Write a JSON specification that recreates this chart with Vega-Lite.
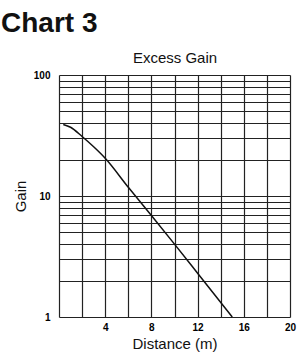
{
  "$schema": "https://vega.github.io/schema/vega-lite/v6.json",
  "autosize": {"type": "none"},
  "width": 231,
  "height": 242,
  "padding": {"left": 59, "top": 75, "right": 8, "bottom": 35},
  "background": "white",
  "title": {
    "text": "Chart 3",
    "anchor": "start",
    "frame": "group",
    "font": "Liberation Sans",
    "fontSize": 28,
    "fontWeight": "bold",
    "color": "#111",
    "baseline": "alphabetic",
    "dx": -58,
    "dy": 10,
    "offset": 0
  },
  "config": {
    "view": {"stroke": null},
    "axis": {
      "labelFont": "Liberation Sans",
      "titleFont": "Liberation Sans",
      "labelColor": "#000",
      "titleColor": "#111",
      "titleFontWeight": "normal"
    }
  },
  "data": {
    "values": [
      {"distance": 0.37, "gain": 39},
      {"distance": 1, "gain": 37},
      {"distance": 2, "gain": 31},
      {"distance": 3, "gain": 25.5},
      {"distance": 4, "gain": 20.5},
      {"distance": 6, "gain": 11.8},
      {"distance": 8, "gain": 6.9},
      {"distance": 10, "gain": 4},
      {"distance": 12, "gain": 2.3},
      {"distance": 15, "gain": 1}
    ]
  },
  "resolve": {"axis": {"x": "independent"}},
  "layer": [
    {
      "mark": {"type": "line", "color": "#111", "strokeWidth": 1.5, "interpolate": "monotone"},
      "encoding": {
        "x": {
          "field": "distance",
          "type": "quantitative",
          "scale": {"domain": [0, 20], "nice": false, "zero": true},
          "axis": {
            "orient": "bottom",
            "title": "Distance (m)",
            "titleFontSize": 15,
            "titlePadding": 4,
            "values": [0, 2, 4, 6, 8, 10, 12, 14, 16, 18, 20],
            "labelExpr": "datum.value > 0 && datum.value % 4 == 0 ? datum.label : ''",
            "labelFontSize": 10,
            "labelFontWeight": "bold",
            "labelPadding": 5,
            "labelFlush": false,
            "ticks": false,
            "domain": false,
            "grid": true,
            "gridColor": "#222",
            "gridWidth": 1.2,
            "gridOpacity": 1
          }
        },
        "y": {
          "field": "gain",
          "type": "quantitative",
          "scale": {"type": "log", "domain": [1, 100], "nice": false},
          "axis": {
            "title": "Gain",
            "titleFontSize": 15,
            "titlePadding": 5,
            "values": [1, 2, 3, 4, 5, 6, 7, 8, 9, 10, 20, 30, 40, 50, 60, 70, 80, 90, 100],
            "labelExpr": "datum.value == 1 || datum.value == 10 || datum.value == 100 ? datum.label : ''",
            "labelFontSize": 10,
            "labelFontWeight": "bold",
            "labelPadding": 9,
            "ticks": false,
            "domain": false,
            "grid": true,
            "gridColor": "#222",
            "gridWidth": 1.2,
            "gridOpacity": 1
          }
        }
      }
    },
    {
      "mark": {"type": "line", "strokeOpacity": 0},
      "encoding": {
        "x": {
          "field": "distance",
          "type": "quantitative",
          "axis": {
            "orient": "top",
            "title": "Excess Gain",
            "titleFontSize": 15,
            "titlePadding": 10,
            "labels": false,
            "ticks": false,
            "domain": false,
            "grid": false
          }
        },
        "y": {"field": "gain", "type": "quantitative"}
      }
    }
  ]
}
